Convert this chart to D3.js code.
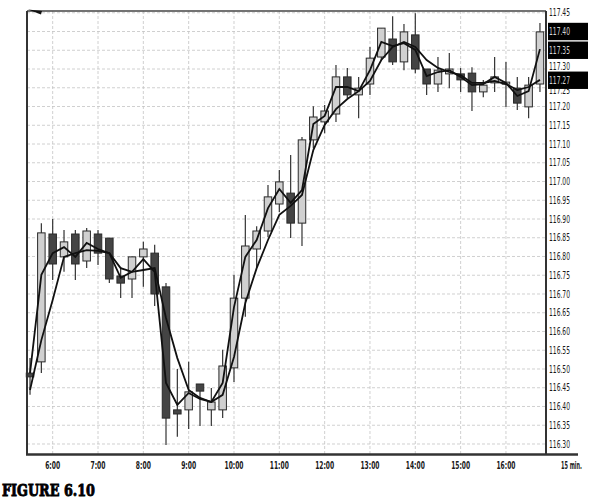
<!DOCTYPE html>
<html><head><meta charset="utf-8">
<script src="https://cdn.jsdelivr.net/npm/d3@7"></script>
<style>body{margin:0;background:#fff}svg{display:block}</style>
</head><body>
<svg id="c" width="602" height="502"></svg>
<script>
const times = ["5:30","5:45","6:00","6:15","6:30","6:45","7:00","7:15","7:30","7:45","8:00","8:15","8:30","8:45","9:00","9:15","9:30","9:45","10:00","10:15","10:30","10:45","11:00","11:15","11:30","11:45","12:00","12:15","12:30","12:45","13:00","13:15","13:30","13:45","14:00","14:15","14:30","14:45","15:00","15:15","15:30","15:45","16:00","16:15","16:30","16:45"];
const open = [116.489,116.519,116.86,116.799,116.86,116.788,116.86,116.849,116.748,116.74,116.799,116.809,116.719,116.391,116.391,116.46,116.391,116.391,116.503,116.689,116.82,116.868,116.94,116.969,116.889,117.111,117.159,117.18,117.279,117.231,117.26,117.332,117.38,117.319,117.391,117.30,117.26,117.287,117.287,117.289,117.239,117.263,117.26,117.249,117.199,117.26];
const high = [116.529,116.889,116.90,116.871,116.871,116.876,116.871,116.849,116.772,116.80,116.839,116.831,116.729,116.50,116.519,116.46,116.449,116.551,116.751,116.911,116.881,116.991,117.031,117.071,117.119,117.201,117.204,117.311,117.303,117.279,117.359,117.409,117.441,117.42,117.449,117.30,117.332,117.343,117.303,117.305,117.271,117.332,117.319,117.279,117.279,117.423];
const low = [116.431,116.489,116.737,116.759,116.737,116.769,116.777,116.729,116.689,116.689,116.719,116.668,116.297,116.319,116.34,116.348,116.348,116.369,116.465,116.639,116.769,116.852,116.919,116.849,116.828,117.089,117.129,117.159,117.223,117.169,117.231,117.324,117.311,117.297,117.289,117.231,117.239,117.249,117.239,117.188,117.225,117.239,117.199,117.191,117.169,117.239];
const close = [116.479,116.863,116.78,116.839,116.78,116.868,116.809,116.74,116.729,116.799,116.82,116.70,116.369,116.38,116.439,116.441,116.412,116.508,116.689,116.828,116.868,116.959,116.999,116.889,117.111,117.172,117.188,117.279,117.231,117.249,117.329,117.409,117.319,117.399,117.30,117.26,117.297,117.30,117.271,117.239,117.257,117.279,117.265,117.209,117.257,117.399];
const maFast = [116.489,116.751,116.809,116.825,116.799,116.836,116.82,116.809,116.743,116.759,116.793,116.759,116.463,116.404,116.436,116.42,116.412,116.463,116.665,116.799,116.844,116.929,116.98,116.943,116.977,117.153,117.175,117.252,117.252,117.241,117.297,117.372,117.361,117.369,117.351,117.281,117.292,117.297,117.279,117.257,117.26,117.279,117.263,117.228,117.241,117.353];
const maSlow = [116.444,116.577,116.684,116.799,116.809,116.817,116.815,116.809,116.769,116.759,116.764,116.769,116.636,116.529,116.444,116.423,116.412,116.431,116.532,116.676,116.769,116.844,116.911,116.935,116.964,117.084,117.151,117.193,117.22,117.241,117.268,117.324,117.359,117.372,117.359,117.324,117.303,117.292,117.284,117.263,117.263,117.268,117.26,117.244,117.252,117.271];
const hourTicks = ["6:00","7:00","8:00","9:00","10:00","11:00","12:00","13:00","14:00","15:00","16:00"];
const priceTicks = [116.30,116.35,116.40,116.45,116.50,116.55,116.60,116.65,116.70,116.75,116.80,116.85,116.90,116.95,117.00,117.05,117.10,117.15,117.20,117.25,117.30,117.35,117.40,117.45];
const priceMarkers = [117.40,117.35,117.27];
const periodLabel = "15 min.";
const caption = "FIGURE 6.10";

const svg = d3.select("#c");
const L = 27, R = 546, T = 11, B = 454;
const parse = d3.timeParse("%H:%M");
const x = d3.scaleTime().domain([parse("5:26"), parse("16:53")]).range([L, R]);
const y = d3.scaleLinear().domain([116.2733, 117.4547]).range([B, T]);

const data = times.map((t, i) => ({t: parse(t), o: open[i], h: high[i], l: low[i], c: close[i]}));

// grid
const g = svg.append("g");
g.selectAll("line.hg").data(priceTicks).join("line")
  .attr("x1", L).attr("x2", R).attr("y1", d => y(d)).attr("y2", d => y(d))
  .attr("stroke", "#c4c4c4").attr("stroke-width", 0.8).attr("stroke-dasharray", "3,2");
g.selectAll("line.vg").data(hourTicks).join("line")
  .attr("x1", d => x(parse(d))).attr("x2", d => x(parse(d))).attr("y1", T).attr("y2", B)
  .attr("stroke", "#c4c4c4").attr("stroke-width", 0.8).attr("stroke-dasharray", "3,2");

// candles
const cw = 7.5;
const cg = svg.append("g");
cg.selectAll("line.w").data(data).join("line")
  .attr("x1", d => x(d.t)).attr("x2", d => x(d.t))
  .attr("y1", d => y(d.h)).attr("y2", d => y(d.l))
  .attr("stroke", "#333").attr("stroke-width", 1.2);
cg.selectAll("rect").data(data).join("rect")
  .attr("x", d => x(d.t) - cw/2).attr("width", cw)
  .attr("y", d => y(Math.max(d.o, d.c)))
  .attr("height", d => Math.max(2, Math.abs(y(d.o) - y(d.c))))
  .attr("fill", d => d.c >= d.o ? "#d0d0d0" : "#444")
  .attr("stroke", "#2a2a2a").attr("stroke-width", 1);

// moving averages
const lf = d3.line().x((d, i) => x(parse(times[i]))).y(d => y(d));
svg.append("path").attr("d", lf(maSlow)).attr("fill", "none").attr("stroke", "#111").attr("stroke-width", 1.8);
svg.append("path").attr("d", lf(maFast)).attr("fill", "none").attr("stroke", "#111").attr("stroke-width", 1.8);

// frame
svg.append("line").attr("x1", L).attr("x2", R).attr("y1", T).attr("y2", T).attr("stroke", "#444").attr("stroke-width", 1.3);
svg.append("line").attr("x1", L).attr("x2", L).attr("y1", T).attr("y2", B + 1).attr("stroke", "#333").attr("stroke-width", 2);
svg.append("line").attr("x1", R).attr("x2", R).attr("y1", T).attr("y2", B + 1).attr("stroke", "#333").attr("stroke-width", 2);
svg.append("line").attr("x1", L - 1).attr("x2", 578).attr("y1", B + 0.5).attr("y2", B + 0.5).attr("stroke", "#333").attr("stroke-width", 2.5);
svg.append("path").attr("d", "M28,9.5 L42,11 L41,14.5 Z").attr("fill", "#111");

// y labels (ticks hidden behind the price markers are drawn only partly, like the reference)
const font = "'Liberation Sans Narrow','DejaVu Sans Condensed','Liberation Sans',sans-serif";
const covered = d => priceMarkers.some(m => Math.abs(y(m) - y(d)) < 13);
svg.append("g").selectAll("text").data(priceTicks.filter(d => !covered(d)) ).join("text")
  .attr("x", 549).attr("y", d => y(d)).attr("dy", "0.35em")
  .attr("font-family", font).attr("font-size", 10.5).attr("fill", "#1a1a1a")
  .attr("textLength", 21).attr("lengthAdjust", "spacingAndGlyphs")
  .text(d => d.toFixed(2));
// partly covered labels, nudged so they peek out of the black boxes
const partial = priceTicks.filter(d => covered(d) && !priceMarkers.some(m => Math.abs(m - d) < 1e-6));
svg.append("g").selectAll("text").data(partial).join("text")
  .attr("x", 549).attr("y", d => y(d) + (d > 117.27 ? -2.5 : 2.5)).attr("dy", "0.35em")
  .attr("font-family", font).attr("font-size", 10.5).attr("fill", "#1a1a1a")
  .attr("textLength", 21).attr("lengthAdjust", "spacingAndGlyphs")
  .text(d => d.toFixed(2));

// price markers
const mg = svg.append("g");
mg.selectAll("rect").data(priceMarkers).join("rect")
  .attr("x", 548).attr("width", 40).attr("y", d => y(d) - 8.7).attr("height", 17.4).attr("fill", "#000");
mg.selectAll("text").data(priceMarkers).join("text")
  .attr("x", 549).attr("y", d => y(d)).attr("dy", "0.35em")
  .attr("font-family", font).attr("font-size", 10.5).attr("fill", "#d4d4d4")
  .attr("textLength", 21).attr("lengthAdjust", "spacingAndGlyphs")
  .text(d => d.toFixed(2));

// x labels
svg.append("g").selectAll("text").data(hourTicks).join("text")
  .attr("x", d => x(parse(d))).attr("y", 465).attr("dy", "0.35em").attr("text-anchor", "middle")
  .attr("font-family", font).attr("font-size", 10.5).attr("font-weight", "bold").attr("fill", "#1a1a1a")
  .attr("textLength", d => d.length > 4 ? 19 : 15).attr("lengthAdjust", "spacingAndGlyphs")
  .text(d => d);
svg.append("text").attr("x", 561).attr("y", 465).attr("dy", "0.35em")
  .attr("font-family", font).attr("font-size", 10.5).attr("font-weight", "bold").attr("fill", "#1a1a1a")
  .attr("textLength", 21).attr("lengthAdjust", "spacingAndGlyphs").text(periodLabel);

// caption
svg.append("text").attr("x", 2).attr("y", 496)
  .attr("font-family", "'DejaVu Serif',serif").attr("font-weight", "bold").attr("font-size", 16.5)
  .attr("fill", "#000").attr("stroke", "#000").attr("stroke-width", 0.9)
  .attr("textLength", 93).attr("lengthAdjust", "spacingAndGlyphs")
  .text(caption);
</script>
</body></html>
